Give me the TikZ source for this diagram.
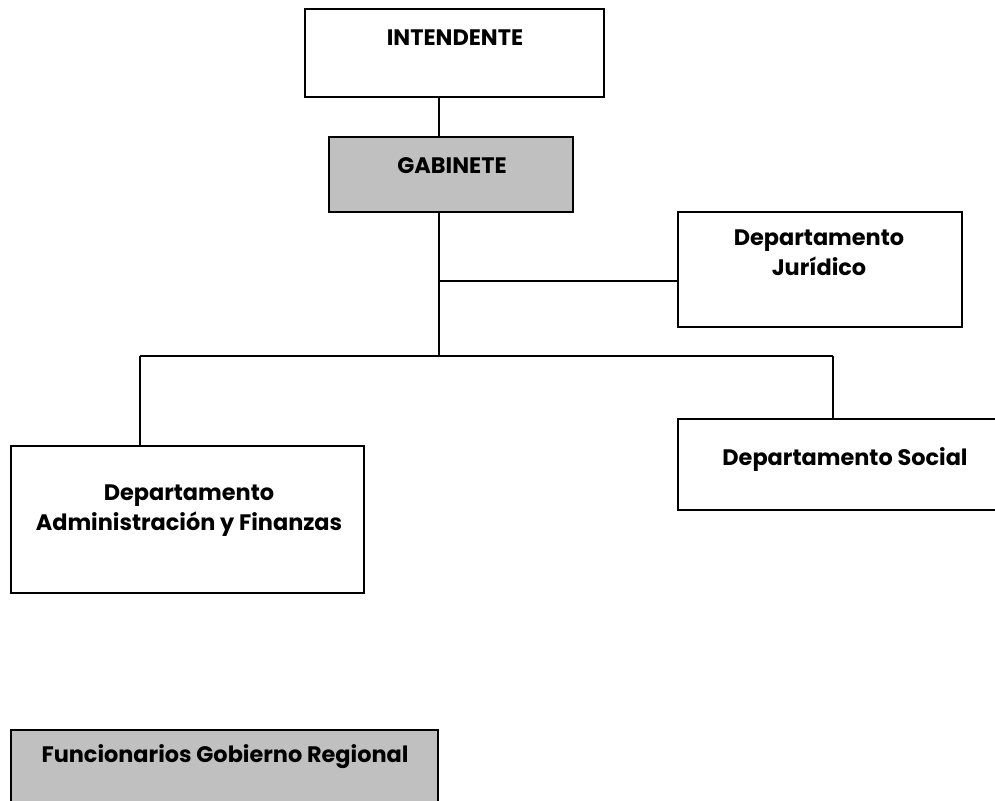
\documentclass[tikz,border=0pt]{standalone}
\usepackage{fontspec}
\setmainfont{Poppins}
\usepackage{xcolor}
\definecolor{boxgray}{RGB}{192,192,192}

\begin{document}
\begin{tikzpicture}[x=0.75pt,y=-0.75pt]
    \useasboundingbox (0,0) rectangle (995,800);
    \clip (0,0) rectangle (995,800);

    \begin{scope}[every node/.style={draw, line width=1.5pt, rectangle, inner sep=0}]
                        \node [minimum width=224.25pt, minimum height=66pt] (intendente) at (454.5,53) {};
                        \node [fill=boxgray, minimum width=183pt, minimum height=56.25pt] (gabinete) at (451,174.5) {};
                        \node [minimum width=213pt, minimum height=86.25pt] (juridico) at (820,269.5) {};
                        \node [minimum width=250.5pt, minimum height=68.25pt] (social) at (845,464.5) {};
                        \node [minimum width=264.75pt, minimum height=110.25pt] (admin) at (187.5,519.5) {};
                        \node [fill=boxgray, minimum width=320.25pt, minimum height=67.5pt] (funcionarios) at (224.5,775) {};
                \end{scope}

    \begin{scope}[every node/.style={anchor=base, inner sep=0, align=center, font=\fontsize{16.8}{22.5}\selectfont\bfseries}]
                        \node (tintendente) at (455,45) {INTENDENTE};
                        \node (tgabinete) at (452,173) {GABINETE};
                        \node (tjuridico) at (819,275) {Departamento\\Jurídico};
                        \node (tsocial) at (845,465) {Departamento Social};
                        \node (tadmin) at (189,530) {Departamento\\Administración y Finanzas};
                        \node (tfuncionarios) at (225,762) {Funcionarios Gobierno Regional};
                \end{scope}

    \coordinate (tap) at (439,281);
    \coordinate (bus) at (439,356);
    \coordinate (busleft) at (140,356);
    \coordinate (busright) at (833,356);

    \begin{scope}[every path/.style={line width=1.2pt}]
                        \draw (intendente.south -| bus) -- (gabinete.north -| bus);
                        \draw (gabinete.south -| bus) -- (bus);
                        \draw (tap) -- (tap -| juridico.west);
                        \draw (busleft) -- (busright);
                        \draw (busleft) -- (busleft |- admin.north);
                        \draw (busright) -- (busright |- social.north);
               \end{scope}
\end{tikzpicture}
\end{document}
